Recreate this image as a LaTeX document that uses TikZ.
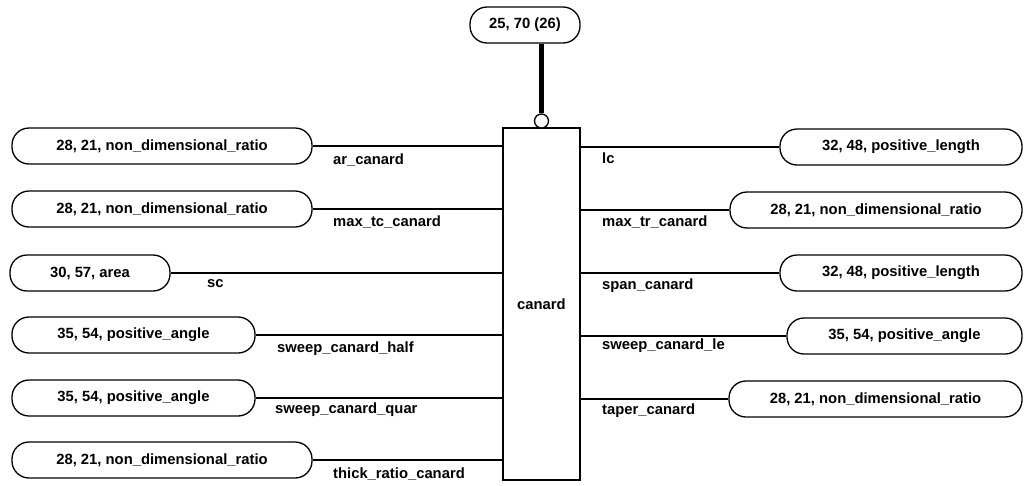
\documentclass[tikz,border=0pt]{standalone}
\usepackage{fontspec}
\setmainfont{Liberation Sans}
\begin{document}
\begin{tikzpicture}[x=1pt,y=-1pt,
  every node/.style={font=\bfseries\fontsize{14.8pt}{17pt}\selectfont},
  typebox/.style={draw, line width=1.3pt, rounded corners=17pt, minimum height=36pt, inner sep=0pt},
  entbox/.style={draw, line width=1.3pt, minimum width=77pt, minimum height=352pt, inner sep=0pt},
  attr/.style={line width=1.3pt},
  lbl/.style={anchor=west, inner sep=0pt},
  thickrel/.style={line width=4.5pt}]
\useasboundingbox (0,0) rectangle (1025,485);
% entity
\node[entbox] (canard) at (541.5,304) {canard};
\node[typebox, minimum width=110pt] (top) at (525,25) {25, 70 (26)};
\node[draw, circle, line width=1.3pt, minimum size=14pt, inner sep=0pt, fill=white] (circ) at (541.5,121) {};
\draw[thickrel] (circ.north |- top.south) -- (circ.north);
% left side
\node[typebox, minimum width=300pt] (l1) at (162,146) {28, 21, non\_dimensional\_ratio};
\node[typebox, minimum width=300pt] (l2) at (162,209) {28, 21, non\_dimensional\_ratio};
\node[typebox, minimum width=160pt] (l3) at (90,273) {30, 57, area};
\node[typebox, minimum width=243pt] (l4) at (133.5,335) {35, 54, positive\_angle};
\node[typebox, minimum width=243pt] (l5) at (133.5,398) {35, 54, positive\_angle};
\node[typebox, minimum width=300pt] (l6) at (162,460) {28, 21, non\_dimensional\_ratio};
\foreach \n in {l1,l2,l3,l4,l5,l6} \draw[attr] (\n.east) -- (\n.east -| canard.west);
\node[lbl] (t1) at (333,160) {ar\_canard};
\node[lbl] (t2) at (333,222) {max\_tc\_canard};
\node[lbl] (t3) at (207,284) {sc};
\node[lbl] (t4) at (277,349) {sweep\_canard\_half};
\node[lbl] (t5) at (275,410) {sweep\_canard\_quar};
\node[lbl] (t6) at (333,474) {thick\_ratio\_canard};
% right side
\node[typebox, minimum width=242pt] (r1) at (901,147) {32, 48, positive\_length};
\node[typebox, minimum width=292pt] (r2) at (876,210) {28, 21, non\_dimensional\_ratio};
\node[typebox, minimum width=242pt] (r3) at (901,273) {32, 48, positive\_length};
\node[typebox, minimum width=235pt] (r4) at (904.5,336) {35, 54, positive\_angle};
\node[typebox, minimum width=293pt] (r5) at (875.5,399) {28, 21, non\_dimensional\_ratio};
\foreach \n in {r1,r2,r3,r4,r5} \draw[attr] (canard.east |- \n.west) -- (\n.west);
\node[lbl] (s1) at (602,158) {lc};
\node[lbl] (s2) at (602,222) {max\_tr\_canard};
\node[lbl] (s3) at (602,286) {span\_canard};
\node[lbl] (s4) at (602,346) {sweep\_canard\_le};
\node[lbl] (s5) at (602,411) {taper\_canard};
\end{tikzpicture}
\end{document}
